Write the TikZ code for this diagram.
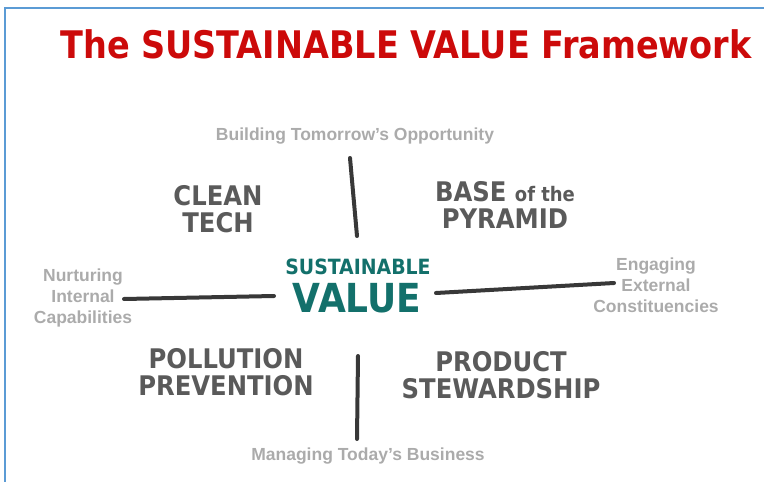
\documentclass[tikz,border=0pt]{standalone}
\usepackage{fontspec}
\usetikzlibrary{calc}
\setmainfont{Liberation Sans}
\newfontfamily\handfont{DejaVu Sans Condensed}
\definecolor{framered}{HTML}{CC0A0A}
\definecolor{framegray}{HTML}{5A5A5A}
\definecolor{axisgray}{HTML}{ABABAB}
\definecolor{valueteal}{HTML}{13706B}
\definecolor{edgeblue}{HTML}{5B9BD5}
\tikzset{
    quadrant/.style={font=\handfont\bfseries\fontsize{27}{27}\selectfont, text=framegray, align=center, inner sep=0pt},
    axislabel/.style={font=\bfseries\fontsize{17.5}{21}\selectfont, text=axisgray, align=center, inner sep=0pt},
    axisline/.style={draw=black!78, line width=4pt, line cap=round},
}
\begin{document}
\begin{tikzpicture}[x=1pt,y=-1pt]
        \useasboundingbox (0,0) rectangle (764,482);
        %% Frame
        \draw[edgeblue, line width=1.5pt] (5,482) -- (5,8) -- (764,8);
        %% Title
        \node[font=\handfont\bfseries\fontsize{38}{38}\selectfont, text=framered, xscale=0.98, inner sep=0pt] (title) at (406,44) {The SUSTAINABLE VALUE Framework};
        %% Center
        \node[font=\handfont\bfseries\fontsize{21}{21}\selectfont, text=valueteal, inner sep=0pt] (sust) at (358,267) {SUSTAINABLE};
        \node[font=\handfont\bfseries\fontsize{40}{40}\selectfont, text=valueteal, inner sep=0pt] (value) at (357,298) {VALUE};
        %% Axis labels
        \node[axislabel] (tomorrow) at (355,136) {Building Tomorrow's Opportunity};
        \node[axislabel] (today) at (368,456) {Managing Today's Business};
        \node[axislabel] (internal) at (83,298) {Nurturing\\Internal\\Capabilities};
        \node[axislabel] (external) at (656,285) {Engaging\\External\\Constituencies};
        %% Quadrants
        \node[quadrant] (clean) at (218,209) {CLEAN\\TECH};
        \node[quadrant] (base) at (505,205) {BASE {\fontsize{20}{20}\selectfont of the}\\PYRAMID};
        \node[quadrant] (pollution) at (226,372) {POLLUTION\\PREVENTION};
        \node[quadrant] (product) at (501,375) {PRODUCT\\STEWARDSHIP};
        %% Axes
        \coordinate (topstart) at (350,158);
        \coordinate (topend) at (357,236);
        \coordinate (bottomstart) at (358,356);
        \coordinate (bottomend) at (357,439);
        \coordinate (leftstart) at (124,299);
        \coordinate (leftend) at (274,296);
        \coordinate (rightstart) at (436,293);
        \coordinate (rightend) at (614,283);
        \draw[axisline] (topstart) -- (topend);
        \draw[axisline] (bottomstart) -- (bottomend);
        \draw[axisline] (leftstart) -- (leftend);
        \draw[axisline] (rightstart) -- (rightend);
\end{tikzpicture}
\end{document}
